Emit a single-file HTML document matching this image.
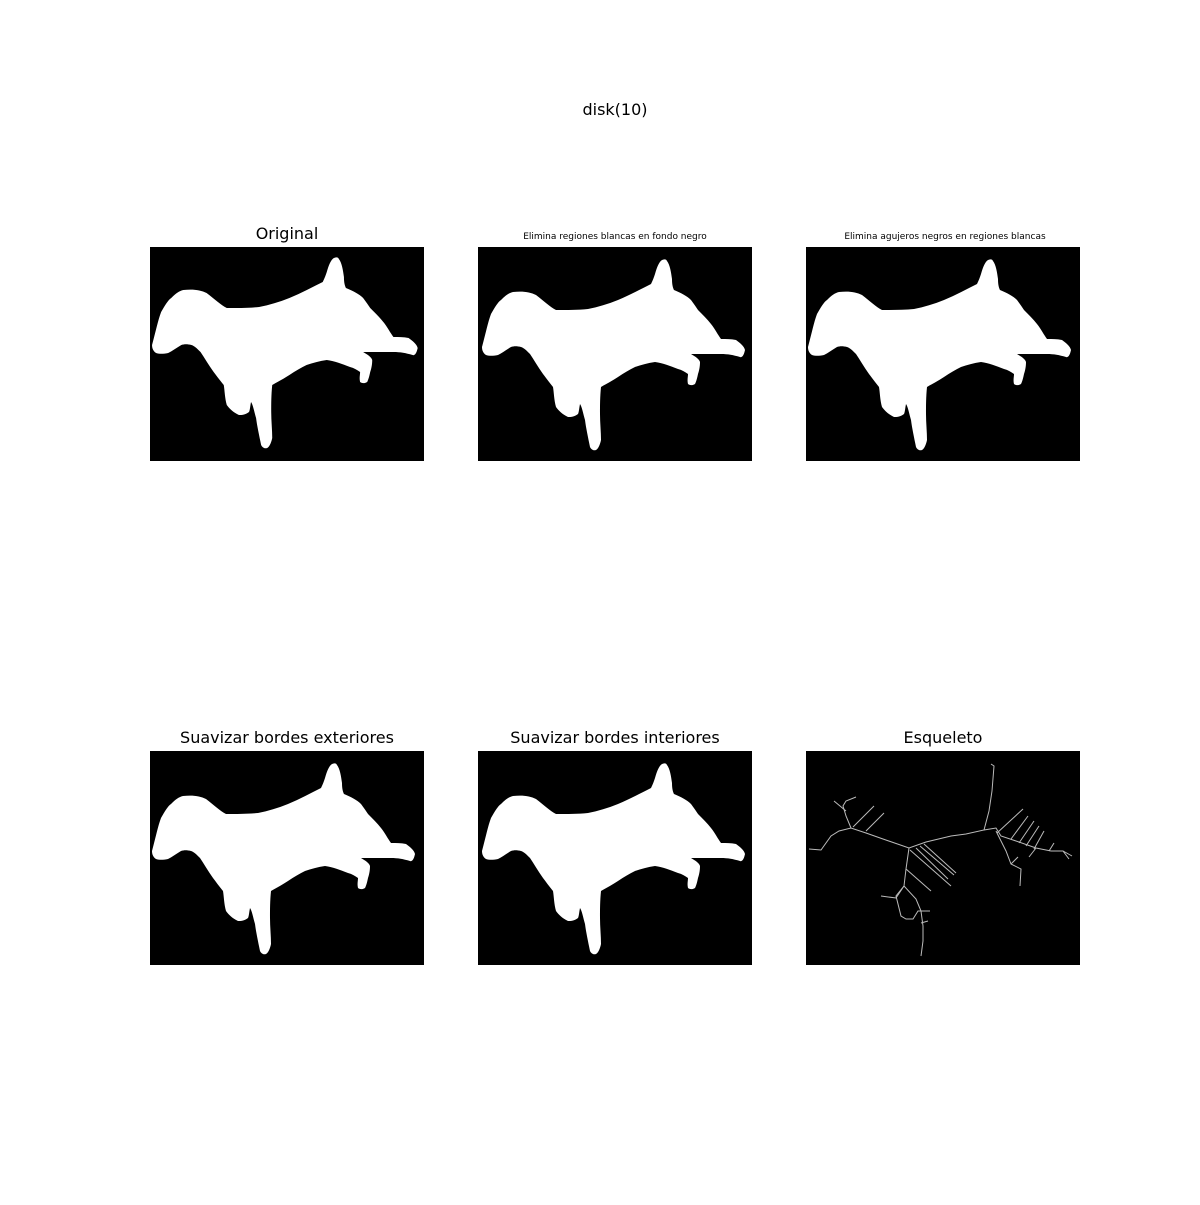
<!DOCTYPE html>
<html><head><meta charset="utf-8"><style>
body{margin:0;background:#fff;}
svg text{font-family:"DejaVu Sans","Liberation Sans",sans-serif;fill:#000;}
</style></head><body>
<svg width="1200" height="1200" viewBox="0 0 1200 1200">
<defs>
<path id="dog" d="M4,100 C8,85 10,75 13,67 C17,60 20,55 23,53 C28,48 31,46 35,45 C45,44 52,45 58,48 C66,54 72,60 78,63 C90,63 100,63 110,62 C120,60 130,57 140,53 C152,48 163,42 173,37 C175,33 176,30 177,27 C179,20 181,15 184,13 C187,12 188,12 189,14 C192,18 193,25 194,32 C194,38 195,41 196,43 C203,46 209,49 213,53 C216,57 218,60 220,63 C225,68 229,72 233,77 C237,82 240,88 243,92 C248,92 253,92 258,93 C262,96 266,99 267,103 C266,108 264,111 262,110 C255,108 250,107 243,107 C233,107 223,107 213,107 C218,110 221,112 222,115 C222,120 221,124 220,127 C219,132 218,135 217,137 C214,139 211,138 210,137 C209,133 210,130 210,127 C207,125 204,123 200,122 C192,119 185,116 177,115 C170,116 163,118 157,120 C151,123 146,126 140,130 C134,134 128,137 123,140 C122,150 122,158 122,167 C122,176 123,185 123,193 C122,198 120,202 118,203 C115,204 113,202 112,200 C110,190 108,181 107,173 C105,166 104,160 102,157 C101,162 101,165 100,167 C96,170 93,170 90,170 C84,167 81,164 78,160 C76,153 76,146 75,140 C71,135 68,131 65,127 C60,120 56,113 52,107 C48,103 46,101 43,100 C39,99 36,99 33,100 C28,103 24,106 20,108 C15,109 11,109 8,108 C5,106 4,103 4,100 Z"/>
</defs>
<rect width="1200" height="1200" fill="#fff"/>
<text x="615" y="115" font-size="16" text-anchor="middle">disk(10)</text>

<text x="287" y="239" font-size="16" text-anchor="middle">Original</text>
<g transform="translate(150,247)">
<rect width="274" height="214" fill="#000"/>
<use href="#dog" fill="#fff" transform="translate(-2,-2) scale(1.01,1.0)"/>
</g>

<text x="615" y="239" font-size="9" text-anchor="middle">Elimina regiones blancas en fondo negro</text>
<g transform="translate(478,247)">
<rect width="274" height="214" fill="#000"/>
<use href="#dog" fill="#fff"/>
</g>

<text x="945" y="239" font-size="9" text-anchor="middle">Elimina agujeros negros en regiones blancas</text>
<g transform="translate(806,247)">
<rect width="274" height="214" fill="#000"/>
<use href="#dog" fill="#fff" transform="translate(-2,0)"/>
</g>

<text x="287" y="743" font-size="16" text-anchor="middle">Suavizar bordes exteriores</text>
<g transform="translate(150,751)">
<rect width="274" height="214" fill="#000"/>
<use href="#dog" fill="#fff" transform="translate(-2,0)"/>
</g>

<text x="615" y="743" font-size="16" text-anchor="middle">Suavizar bordes interiores</text>
<g transform="translate(478,751)">
<rect width="274" height="214" fill="#000"/>
<use href="#dog" fill="#fff"/>
</g>

<text x="943" y="743" font-size="16" text-anchor="middle">Esqueleto</text>
<g transform="translate(806,751)">
<rect width="274" height="214" fill="#000"/>
<g fill="none" stroke="#bbb" stroke-width="1">
<polyline points="3,98 15,99 25,85 33,80 45,77 60,82 77,88 103,97 120,91 145,85 160,83 178,79 183,60 186,40 188,15 185,13"/>
<polyline points="45,77 40,65 37,55 40,50 50,46"/>
<polyline points="40,60 28,50"/>
<polyline points="47,76 68,55"/><polyline points="60,80 78,62"/>
<polyline points="103,97 100,118 98,135 90,147 75,145"/>
<polyline points="98,135 90,145 95,165 100,168 107,168 112,160 115,160 117,175 117,190 115,205"/>
<polyline points="98,135 110,148 115,160 120,160 124,160"/>
<polyline points="115,172 122,170"/>
<polyline points="104,99 145,135"/><polyline points="110,97 142,128"/><polyline points="114,95 148,124"/><polyline points="118,93 150,122"/>
<polyline points="100,118 125,140"/>
<polyline points="178,79 190,77 195,85 210,90 230,97 245,100 257,100 263,108"/>
<polyline points="257,100 266,105"/>
<polyline points="191,82 217,58"/><polyline points="205,88 222,65"/><polyline points="213,92 228,70"/><polyline points="220,95 233,75"/><polyline points="228,98 238,80"/>
<polyline points="243,100 248,92"/><polyline points="230,97 223,106"/>
<polyline points="190,80 200,100 205,113 215,118 214,135"/>
<polyline points="205,113 212,106"/>
</g>
</g>
</svg>
</body></html>
